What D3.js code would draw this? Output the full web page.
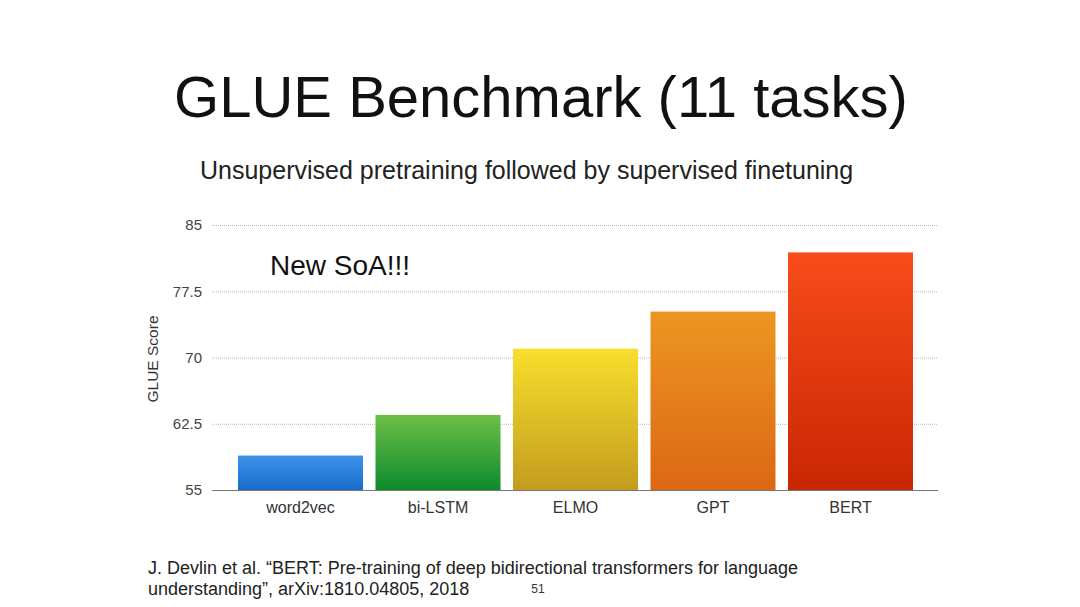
<!DOCTYPE html>
<html>
<head>
<meta charset="utf-8">
<script src="https://cdn.jsdelivr.net/npm/d3@7"></script>
<style>
  body { margin: 0; background: #fff; }
  svg { display: block; font-family: "Liberation Sans", "DejaVu Sans", sans-serif; }
</style>
</head>
<body>
<div id="chart"></div>
<script>
// data
var models = ["word2vec", "bi-LSTM", "ELMO", "GPT", "BERT"];
var scores = [58.9, 63.5, 71.0, 75.2, 81.9];
var topColors = ["#3d93ea", "#6dbf47", "#f8df2c", "#ec9622", "#f84c1a"];
var bottomColors = ["#1a6ccc", "#0d8a2c", "#c39c1f", "#dc6714", "#c92604"];
var yTicks = [55, 62.5, 70, 77.5, 85];

var W = 1080, H = 607;
var cfg = {
  left: 212, right: 938,
  top: 225, bottom: 490
};

var svg = d3.select("#chart").append("svg")
  .attr("width", W)
  .attr("height", H);

svg.append("rect").attr("width", W).attr("height", H).attr("fill", "#fff");

var x = d3.scaleBand()
  .domain(models)
  .range([231.75, 919.25])
  .paddingInner(0.0909)
  .paddingOuter(0.0455);

var y = d3.scaleLinear()
  .domain([55, 85])
  .range([cfg.bottom, cfg.top]);

// gradients
var defs = svg.append("defs");
models.forEach(function(m, i){
  var g = defs.append("linearGradient")
    .attr("id", "grad" + i)
    .attr("x1", 0).attr("y1", 0).attr("x2", 0).attr("y2", 1);
  g.append("stop").attr("offset", "0%").attr("stop-color", topColors[i]);
  g.append("stop").attr("offset", "100%").attr("stop-color", bottomColors[i]);
});

// title + subtitle
svg.append("text")
  .attr("x", 541).attr("y", 117)
  .attr("text-anchor", "middle")
  .style("font-size", "58px")
  .style("font-weight", "300")
  .style("fill", "#111")
  .text("GLUE Benchmark (11 tasks)");

svg.append("text")
  .attr("x", 200).attr("y", 179)
  .style("font-size", "25px")
  .style("fill", "#222")
  .text("Unsupervised pretraining followed by supervised finetuning");

// gridlines
var grid = svg.append("g");
grid.selectAll("line")
  .data(yTicks.filter(function(t){ return t > 55; }))
  .enter().append("line")
  .attr("x1", cfg.left).attr("x2", cfg.right)
  .attr("y1", function(d){ return y(d) + 0.5; })
  .attr("y2", function(d){ return y(d) + 0.5; })
  .style("stroke", "#b8b8b8")
  .style("stroke-width", "1px")
  .style("stroke-dasharray", "1,1");

// y axis labels
var yAxis = d3.axisLeft(y)
  .tickValues(yTicks)
  .tickSize(0)
  .tickPadding(10)
  .tickFormat(function(d){ return d; });

var yg = svg.append("g")
  .attr("transform", "translate(" + cfg.left + ",0)")
  .call(yAxis);
yg.select(".domain").remove();
yg.selectAll("text")
  .style("font-family", "Liberation Sans, sans-serif")
  .style("font-size", "15px")
  .style("fill", "#444");

svg.append("text")
  .attr("transform", "translate(158,359) rotate(-90)")
  .attr("text-anchor", "middle")
  .style("font-size", "15.5px")
  .style("fill", "#333")
  .text("GLUE Score");

// bars
svg.append("g").selectAll("rect")
  .data(scores)
  .enter().append("rect")
  .attr("x", function(d, i){ return x(models[i]); })
  .attr("y", function(d){ return y(d); })
  .attr("width", x.bandwidth())
  .attr("height", function(d){ return y(55) - y(d); })
  .style("fill", function(d, i){ return "url(#grad" + i + ")"; });

// baseline + category labels
var xAxis = d3.axisBottom(x).tickSize(0).tickPadding(12);
var xg = svg.append("g")
  .attr("transform", "translate(0," + cfg.bottom + ")")
  .call(xAxis);
xg.select(".domain").remove();
xg.selectAll("text")
  .style("font-family", "Liberation Sans, sans-serif")
  .style("font-size", "16px")
  .style("fill", "#333");

svg.append("line")
  .attr("x1", cfg.left).attr("x2", cfg.right)
  .attr("y1", cfg.bottom + 0.5).attr("y2", cfg.bottom + 0.5)
  .style("stroke", "#777")
  .style("stroke-width", "1px");

// annotation
svg.append("text")
  .attr("x", 270).attr("y", 275)
  .style("font-size", "28px")
  .style("fill", "#111")
  .text("New SoA!!!");

// citation
var cite = svg.append("text")
  .style("font-size", "18px")
  .style("fill", "#222");
cite.append("tspan").attr("x", 148).attr("y", 574)
  .text("J. Devlin et al. \u201CBERT: Pre-training of deep bidirectional transformers for language");
cite.append("tspan").attr("x", 148).attr("y", 595)
  .text("understanding\u201D, arXiv:1810.04805, 2018");

svg.append("text")
  .attr("x", 538).attr("y", 593)
  .attr("text-anchor", "middle")
  .style("font-size", "12px")
  .style("fill", "#333")
  .text("51");
</script>
</body>
</html>
